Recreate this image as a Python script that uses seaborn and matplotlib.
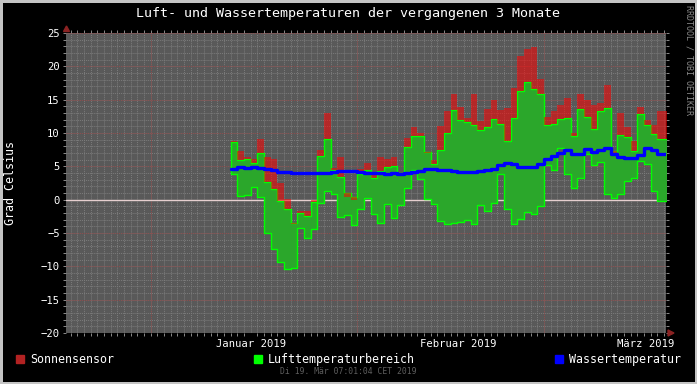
import numpy as np
import matplotlib
matplotlib.use("Agg")
import matplotlib.pyplot as plt
import seaborn as sns
from matplotlib.patches import Rectangle, Polygon

# ---------------- data (daily values, first day = 2019-01-13) ----------------
first_day = 12  # days since 2019-01-01

sun = [8.85, 7.35, 6.4, 6.15, 9.05, 6.4, 6.15, 2.45, 0.05, -3.65,
       -1.7, -1.75, -0.05, 7.4, 12.95, 4.8, 6.45, 0.45, -0.05, 4.55,
       5.45, 3.8, 6.45, 6.05, 6.45, 3.6, 9.2, 10.9, 9.95, 7.0,
       5.95, 11.0, 13.3, 15.8, 13.9, 12.2, 15.8, 11.8, 13.65, 14.9,
       13.4, 13.8, 16.8, 21.55, 22.55, 22.95, 18.05, 12.45, 13.3, 14.15,
       15.3, 9.95, 15.8, 14.9, 14.2, 14.45, 17.15, 6.95, 13.05, 10.95,
       8.8, 13.9, 11.9, 11.15, 13.3, 13.3]

air_max = [8.6, 5.9, 6.05, 5.45, 6.95, 2.6, 1.55, -0.25, -1.45, -3.55,
           -2.0, -2.5, -0.3, 6.6, 9.05, 4.45, 3.45, 0.95, 0.4, 3.8,
           4.45, 3.3, 4.3, 4.85, 5.05, 3.95, 7.95, 9.6, 9.5, 7.15,
           5.3, 7.45, 10.05, 13.4, 11.9, 11.6, 11.2, 10.45, 10.95, 12.15,
           11.3, 8.8, 12.3, 16.3, 17.65, 16.55, 15.8, 11.15, 11.3, 12.05,
           12.3, 9.55, 13.55, 12.45, 10.65, 13.3, 13.7, 7.3, 9.65, 9.45,
           7.25, 12.8, 11.15, 9.8, 9.05, 9.05]

air_min = [3.8, 0.55, 0.7, 1.85, 0.45, -5.0, -7.35, -9.4, -10.45, -10.25,
           -4.2, -5.75, -4.45, -0.45, 1.3, 0.9, -2.55, -2.25, -3.75, -1.35,
           0.3, -2.1, -3.55, -0.6, -2.7, -0.85, 1.8, 4.45, 3.15, 0.05,
           -0.6, -3.2, -3.7, -3.55, -3.35, -3.05, -3.7, -0.85, -1.7, -0.45,
           3.8, -1.35, -3.7, -2.85, -1.85, -2.2, -0.95, 5.15, 4.45, 7.8,
           3.8, 1.8, 3.3, 6.8, 5.15, 5.65, 0.8, 0.25, 0.9, 2.8,
           3.3, 5.8, 5.4, 1.3, -0.15, -0.15]

water = [4.65, 4.95, 4.7, 4.85, 4.7, 4.65, 4.4, 4.2, 4.1, 3.95,
         3.95, 3.95, 3.95, 4.0, 4.05, 4.1, 4.3, 4.3, 4.3, 4.2,
         4.05, 4.05, 4.05, 3.9, 4.05, 3.8, 4.05, 4.2, 4.3, 4.6,
         4.6, 4.5, 4.4, 4.25, 4.2, 4.2, 4.2, 4.3, 4.45, 4.6,
         5.2, 5.55, 5.3, 4.95, 4.95, 4.95, 5.3, 6.1, 6.55, 6.95,
         7.45, 6.8, 6.8, 7.55, 7.2, 7.4, 7.75, 6.8, 6.45, 6.2,
         6.2, 6.65, 7.7, 7.45, 6.8, 6.8]

title = "Luft- und Wassertemperaturen der vergangenen 3 Monate"
y_label = "Grad Celsius"
month_labels = ["Januar 2019", "Februar 2019", "März 2019"]
month_label_pos = [15.0, 46.1, 74.2]     # days since 2019-01-01
month_starts = [0, 31, 59]
y_ticks = list(range(-20, 30, 5))
legend_labels = ["Sonnensensor", "Lufttemperaturbereich", "Wassertemperatur"]
footer = "Di 19. Mär 07:01:04 CET 2019"
credit = "RRDTOOL / TOBI OETIKER"

# ---------------- style ----------------
sns.set_theme(style="dark")
plt.rcParams["font.family"] = ["DejaVu Sans Mono", "DejaVu Sans"]

W, H = 697, 384
fig = plt.figure(figsize=(W / 100, H / 100), dpi=100, facecolor="black")
L, R, T, B = 66, 666, 33, 333
ax = fig.add_axes([L / W, (H - B) / H, (R - L) / W, (B - T) / H])
ax.set_facecolor("#595959")
x0, x1 = -12.71, 77.29
ax.set_xlim(x0, x1)
ax.set_ylim(-20, 25)

# grid
dot = (0, (1, 1))
for d in range(-12, 78):
    ax.axvline(d, color="#7c7c7c", lw=0.7, ls=dot, zorder=0.5)
for v in range(-20, 26):
    ax.axhline(v, color="#7c7c7c", lw=0.7, ls=dot, zorder=0.5)
for d in month_starts:
    ax.axvline(d, color="#8e4a4a", lw=0.7, ls=dot, zorder=0.6)
for v in y_ticks:
    ax.axhline(v, color="#8e4a4a", lw=0.7, ls=dot, zorder=0.6)
ax.axhline(0, color="#e6cfcf", lw=1.0, zorder=0.8)

# ---------------- marks ----------------
days = np.arange(first_day, first_day + len(sun))
xs = np.append(days, days[-1] + 1)


def ext(a):
    a = np.asarray(a, dtype=float)
    return np.append(a, a[-1])


ax.fill_between(xs, ext(air_min), ext(air_max), step="post",
                facecolor="#2ba72b", edgecolor="#00ff00", lw=1.0, zorder=2)
ax.fill_between(xs, ext(air_max), ext(sun), step="post",
                facecolor=(1.0, 0.0, 0.0, 0.55), lw=0, zorder=3)
sns.lineplot(x=xs, y=ext(water), drawstyle="steps-post", color="#0000ff",
             lw=2.4, ax=ax, zorder=4, legend=False)

# ---------------- axes decoration ----------------
for s in ax.spines.values():
    s.set_visible(False)
ax.set_xlabel("")
ax.set_ylabel("")
ax.set_xticks(month_label_pos)
ax.set_xticklabels(month_labels)
ax.tick_params(axis="x", which="major", length=0, pad=4, labelcolor="white",
               labelsize=7.6)
ax.set_xticks(np.arange(-12, 78), minor=True)
ax.tick_params(axis="x", which="minor", length=2.2, width=0.7, color="#8a8a8a",
               direction="out", top=True, bottom=True)
ax.set_yticks(y_ticks)
ax.tick_params(axis="y", which="major", length=2.2, width=0.7, color="#8a8a8a",
               direction="out", labelcolor="white", labelsize=7.6, pad=2.2,
               left=True, right=True)
ax.set_yticks(np.arange(-20, 26), minor=True)
ax.tick_params(axis="y", which="minor", length=2.2, width=0.7, color="#8a8a8a",
               direction="out", left=True, right=True)


def fx(px):
    return px / W


def fy(py):
    return 1 - py / H


# arrows
fig.patches.append(Polygon([(fx(63.5), fy(31.5)), (fx(69.5), fy(31.5)), (fx(66.5), fy(26))],
                           closed=True, transform=fig.transFigure, color="#8b2222"))
fig.patches.append(Polygon([(fx(668), fy(330)), (fx(668), fy(336)), (fx(674), fy(333))],
                           closed=True, transform=fig.transFigure, color="#8b2222"))

# texts
fig.text(fx(348), fy(14), title, ha="center", va="center", color="white", fontsize=9.6)
fig.text(fx(11), fy(183), y_label, rotation=90, ha="center", va="center",
         color="white", fontsize=8.4)
fig.text(fx(689), fy(60), credit, rotation=270, ha="center", va="center",
         color="#8a8a8a", fontsize=6.0)
fig.text(fx(348.5), fy(372), footer, ha="center", va="center", color="#5e5e5e",
         fontsize=5.9)

# legend
leg_colors = ["#b22222", "#00ff00", "#0000ff"]
leg_x = [16, 254, 555]
for lab, col, lx in zip(legend_labels, leg_colors, leg_x):
    fig.patches.append(Rectangle((fx(lx), fy(363)), 8 / W, 8 / H,
                                 transform=fig.transFigure, color=col))
    fig.text(fx(lx + 14), fy(359.5), lab, ha="left", va="center", color="white",
             fontsize=8.4)

# outer frame
fig.patches.append(Rectangle((0, 0), 1, 1, transform=fig.transFigure, fill=False,
                             edgecolor="#c4c4c4", lw=3.6))

fig.savefig("out.png", dpi=100, facecolor="black")
